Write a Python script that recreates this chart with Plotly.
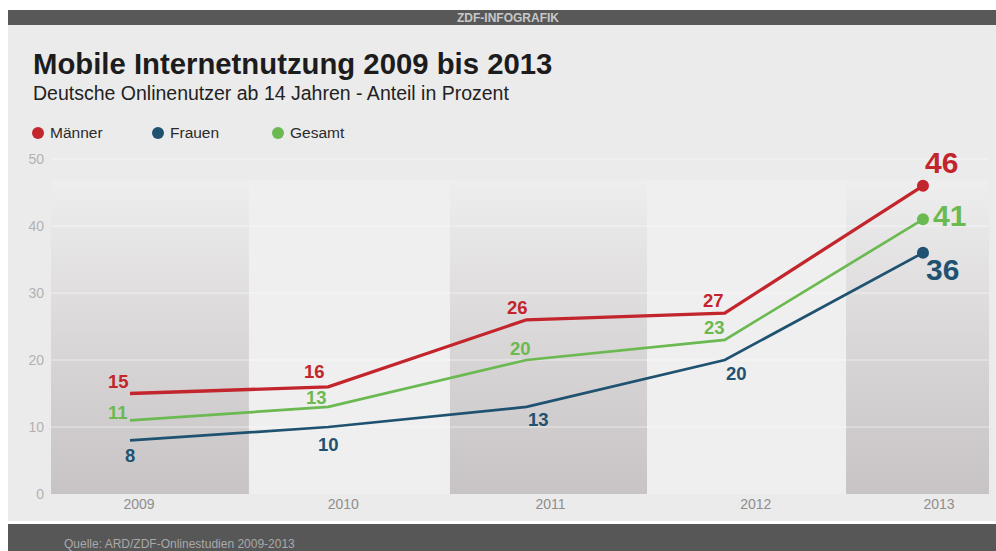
import plotly.graph_objects as go

# ---- data -------------------------------------------------------------
years = ["2009", "2010", "2011", "2012", "2013"]
series_names = ["Männer", "Frauen", "Gesamt"]
maenner = [15, 16, 26, 27, 46]
frauen = [8, 10, 13, 20, 36]
gesamt = [11, 13, 20, 23, 41]
y_ticks = [0, 10, 20, 30, 40, 50]

title = "Mobile Internetnutzung 2009 bis 2013"
subtitle = "Deutsche Onlinenutzer ab 14 Jahren - Anteil in Prozent"
header = "ZDF-INFOGRAFIK"
source = "Quelle: ARD/ZDF-Onlinestudien 2009-2013"

# ---- layout / style ----------------------------------------------------
W, H = 996, 551
L, R, T, B = 51, 7, 140, 57
PLOT_W, PLOT_H = W - L - R, H - T - B
X_RANGE = [-0.3985, 4.333]
Y_RANGE = [0, 52.84]
FONT = "Liberation Sans, Arial, sans-serif"

colors = {"Männer": "#c3252d", "Frauen": "#1f5270", "Gesamt": "#6bb951"}
widths = {"Männer": 3.3, "Frauen": 2.7, "Gesamt": 2.7}

# label offsets (px) per point: (xshift, yshift)
label_shift = {
    "Männer": [(-12, 12), (-14, 15), (-9, 12), (-11, 13), (19, 23)],
    "Gesamt": [(-12, 8), (-12, 9), (-6, 12), (-10, 12), (27, 4)],
    "Frauen": [(0, -15), (0, -17), (12, -13), (12, -13), (20, -17)],
}
# horizontal offset of the year captions from the data points (px)
year_label_shift = [9, 15, 24, 31, 16]
PX_PER_X = PLOT_W / (X_RANGE[1] - X_RANGE[0])

# alternating background columns: (left, right, shaded)
bands = [
    (-0.3985, 0.600, True),
    (0.600, 1.614, False),
    (1.614, 2.608, True),
    (2.608, 3.612, False),
    (3.612, 4.333, True),
]
BAND_TOP = 46.9
BG = "#ebebeb"


def px(x):
    return (x - L) / PLOT_W


def py(y):
    return (H - B - y) / PLOT_H


fig = go.Figure()

# background columns
for x0, x1, shaded in bands:
    kw = dict(
        x=[x0, x1, x1, x0, x0],
        y=[0, 0, BAND_TOP, BAND_TOP, 0],
        fill="toself",
        mode="lines",
        line=dict(width=0),
        hoverinfo="skip",
        showlegend=False,
    )
    if shaded:
        kw["fillgradient"] = dict(
            type="vertical",
            colorscale=[[0, "#c8c4c5"], [0.5, "#dad7d8"], [1, "#eeeeee"]],
        )
    else:
        kw["fillcolor"] = "#efefef"
    fig.add_trace(go.Scatter(**kw))

# horizontal grid lines
gx, gy = [], []
for t in y_ticks[1:]:
    gx += [X_RANGE[0], X_RANGE[1], None]
    gy += [t, t, None]
fig.add_trace(go.Scatter(x=gx, y=gy, mode="lines",
                         line=dict(color="rgba(255,255,255,0.55)", width=1),
                         hoverinfo="skip", showlegend=False))

values = {"Männer": maenner, "Frauen": frauen, "Gesamt": gesamt}
xi = list(range(len(years)))

for name in ["Frauen", "Gesamt", "Männer"]:
    vals = values[name]
    fig.add_trace(go.Scatter(
        x=xi, y=vals, mode="lines", name=name,
        line=dict(color=colors[name], width=widths[name]),
        showlegend=False, hoverinfo="skip",
    ))
    # dot on the latest value
    fig.add_trace(go.Scatter(
        x=xi[-1:], y=vals[-1:], mode="markers",
        marker=dict(size=12, color=colors[name], opacity=1, line=dict(width=0)),
        showlegend=False, hoverinfo="skip", cliponaxis=False,
    ))

annotations = []
for name in series_names:
    vals = values[name]
    for i, v in enumerate(vals):
        dx, dy = label_shift[name][i]
        last = i == len(vals) - 1
        annotations.append(dict(
            x=i, y=v, xref="x", yref="y", text=f"<b>{v}</b>",
            showarrow=False, xshift=dx, yshift=dy,
            font=dict(family=FONT, size=30 if last else 18.5, color=colors[name]),
        ))

# header and footer bars
shapes = [
    dict(type="rect", xref="paper", yref="paper", x0=px(8), x1=px(W), y0=py(25), y1=py(521),
         fillcolor=BG, line=dict(width=0), layer="below"),
    dict(type="rect", xref="paper", yref="paper", x0=px(8), x1=px(W), y0=py(10), y1=py(25),
         fillcolor="#585858", line=dict(width=0), layer="below"),
    dict(type="rect", xref="paper", yref="paper", x0=px(8), x1=px(W), y0=py(524), y1=py(H + 2),
         fillcolor="#575757", line=dict(width=0), layer="below"),
]

annotations += [
    dict(x=px(508), y=py(17.5), xref="paper", yref="paper", text=header, showarrow=False,
         xanchor="center", yanchor="middle",
         font=dict(family=FONT, size=12, color="#c8c8c8", weight="bold")),
    dict(x=px(31), y=py(63), xref="paper", yref="paper", text=f"<b>{title}</b>", showarrow=False,
         xanchor="left", yanchor="middle", font=dict(family=FONT, size=29.3, color="#1c1c1c")),
    dict(x=px(31), y=py(93.5), xref="paper", yref="paper", text=subtitle, showarrow=False,
         xanchor="left", yanchor="middle", font=dict(family=FONT, size=19.5, color="#222222")),
    dict(x=px(62), y=py(543.5), xref="paper", yref="paper", text=source, showarrow=False,
         xanchor="left", yanchor="middle", font=dict(family=FONT, size=12, color="#a9a9a9")),
]

# legend: coloured dots with names
legend_x = [38, 158, 278]
for lx, name in zip(legend_x, series_names):
    shapes.append(dict(type="circle", xref="paper", yref="paper",
                       xsizemode="pixel", ysizemode="pixel",
                       xanchor=px(lx), yanchor=py(133),
                       x0=-6, x1=6, y0=-6, y1=6,
                       fillcolor=colors[name], line=dict(width=0)))
    annotations.append(dict(x=px(lx + 10), y=py(133), xref="paper", yref="paper", text=name,
                            showarrow=False, xanchor="left", yanchor="middle",
                            font=dict(family=FONT, size=15.5, color="#2a2a2a")))

fig.update_layout(
    width=W, height=H,
    margin=dict(l=L, r=R, t=T, b=B),
    paper_bgcolor="white",
    plot_bgcolor="rgba(0,0,0,0)",
    showlegend=False,
    shapes=shapes,
    annotations=annotations,
    xaxis=dict(
        range=X_RANGE, showgrid=False, zeroline=False, showline=False,
        tickvals=[i + s / PX_PER_X for i, s in zip(xi, year_label_shift)],
        ticktext=years, ticks="",
        tickfont=dict(family=FONT, size=14, color="#8e8e8e"),
    ),
    yaxis=dict(
        range=Y_RANGE, showgrid=False, zeroline=False, showline=False,
        tickvals=y_ticks, ticks="", ticklabelstandoff=6,
        tickfont=dict(family=FONT, size=14, color="#b2b2b2"),
    ),
)

fig.write_html("out.html")
